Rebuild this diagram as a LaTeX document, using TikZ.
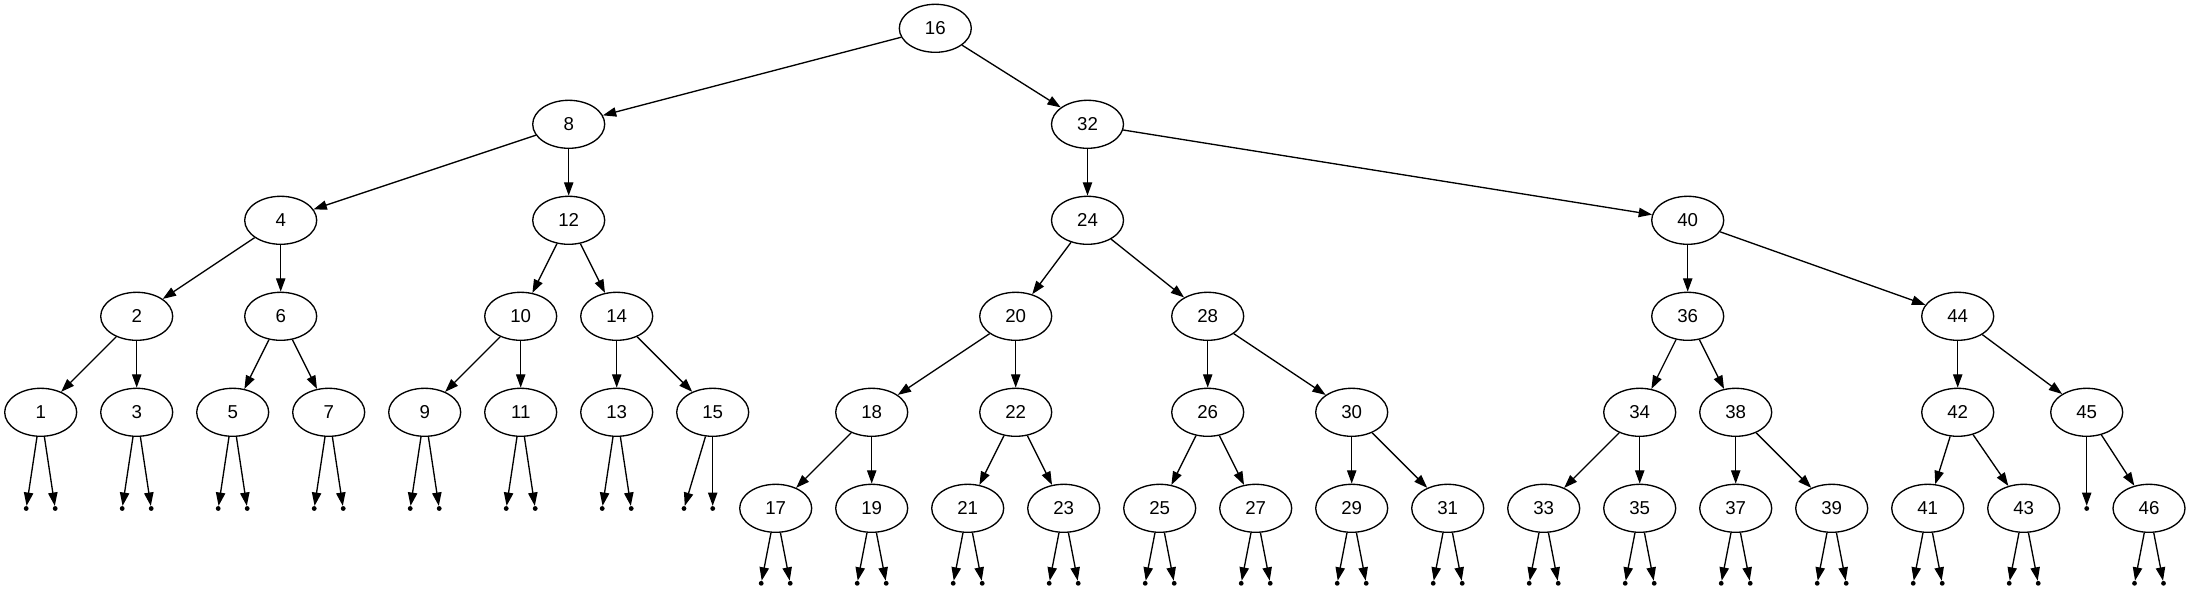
\documentclass[tikz,border=0pt]{standalone}
\usepackage{fontspec}
\setmainfont{Liberation Sans}
\usetikzlibrary{shapes.geometric,arrows.meta}
\tikzset{
  tn/.style={draw=black, ellipse, line width=1pt, minimum width=54pt, minimum height=36pt, inner sep=0pt, font=\fontsize{14}{16}\selectfont},
  pt/.style={circle, fill=black, inner sep=0pt, minimum size=3.6pt},
  edge/.style={draw=black, line width=1pt, -{Triangle[length=10pt,width=7pt]}}
}
\begin{document}
\begin{tikzpicture}[x=0.75pt,y=-0.75pt]
\useasboundingbox (0,0) rectangle (2191,591);
% level 0
\node[tn] (n16) at (935.3,28.3) {16};
% level 1
\node[tn] (n8) at (568.7,124.3) {8};
\node[tn] (n32) at (1087.5,124.3) {32};
% level 2
\node[tn] (n4) at (280.7,220.3) {4};
\node[tn] (n12) at (568.7,220.3) {12};
\node[tn] (n24) at (1087.5,220.3) {24};
\node[tn] (n40) at (1687.7,220.3) {40};
% level 3
\foreach \n/\x in {2/136.7,6/280.7,10/520.7,14/616.7,20/1015.7,28/1207.7,36/1687.7,44/1957.7}
  \node[tn] (n\n) at (\x,316.3) {\n};
% level 4
\foreach \n/\x in {1/40.7,3/136.7,5/232.7,7/328.7,9/424.7,11/520.7,13/616.7,15/712.7,18/871.7,22/1015.7,26/1207.7,30/1351.7,34/1639.7,38/1735.7,42/1957.7,45/2086.7}
  \node[tn] (n\n) at (\x,412.3) {\n};
% level 5
\foreach \n/\x in {17/775.7,19/871.7,21/967.7,23/1063.7,25/1159.7,27/1255.7,29/1351.7,31/1447.7,33/1543.7,35/1639.7,37/1735.7,39/1831.7,41/1927.7,43/2023.7,46/2149}
  \node[tn] (n\n) at (\x,508.3) {\n};
% tree edges
\foreach \a/\b in {16/8,16/32,8/4,8/12,4/2,4/6,2/1,2/3,6/5,6/7,12/10,12/14,10/9,10/11,14/13,14/15,
  32/24,32/40,24/20,24/28,20/18,20/22,18/17,18/19,22/21,22/23,28/26,28/30,26/25,26/27,30/29,30/31,
  40/36,40/44,36/34,36/38,34/33,34/35,38/37,38/39,44/42,44/45,42/41,42/43,45/46}
  \draw[edge] (n\a) -- (n\b);
% null children at level 5
\foreach \n/\x in {1/40.7,3/136.7,5/232.7,7/328.7,9/424.7,11/520.7,13/616.7}{
  \node[pt] (d\n a) at ({\x-14.5},508.5) {};
  \node[pt] (d\n b) at ({\x+14.5},508.5) {};
  \draw[edge] (n\n) -- (d\n a);
  \draw[edge] (n\n) -- (d\n b);
}
\node[pt] (d15a) at (684,508.5) {};
\node[pt] (d15b) at (712.7,508.5) {};
\draw[edge] (n15) -- (d15a);
\draw[edge] (n15) -- (d15b);
\node[pt] (d45a) at (2086.7,508.5) {};
\draw[edge] (n45) -- (d45a);
% null children at level 6
\foreach \n/\x in {17/775.7,19/871.7,21/967.7,23/1063.7,25/1159.7,27/1255.7,29/1351.7,31/1447.7,33/1543.7,35/1639.7,37/1735.7,39/1831.7,41/1927.7,43/2023.7,46/2149}{
  \node[pt] (d\n a) at ({\x-14.5},583.3) {};
  \node[pt] (d\n b) at ({\x+14.5},583.3) {};
  \draw[edge] (n\n) -- (d\n a);
  \draw[edge] (n\n) -- (d\n b);
}
\end{tikzpicture}
\end{document}
